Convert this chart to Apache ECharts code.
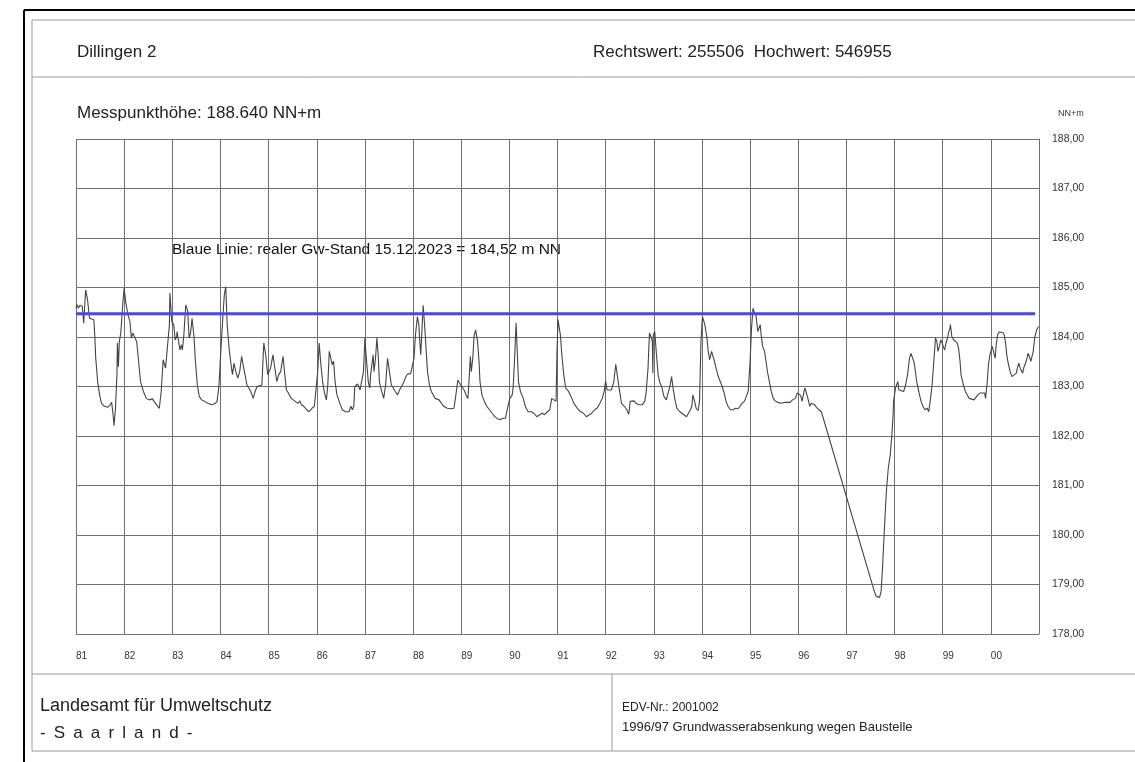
<!DOCTYPE html>
<html lang="de">
<head>
<meta charset="utf-8">
<title>Dillingen 2</title>
<script src="https://cdn.jsdelivr.net/npm/echarts@6/dist/echarts.min.js"></script>
<style>
  html, body { margin: 0; padding: 0; background: #fff; }
  #main { width: 1135px; height: 762px; }
</style>
</head>
<body>
<div id="main"></div>
<script type="text/javascript">
// Zeitachse (Jahre) und Grundwasserstand (NN+m)
let years = [
  1981.00, 1981.02, 1981.05, 1981.08, 1981.10, 1981.13, 1981.16, 1981.20, 1981.24, 1981.28,
  1981.32, 1981.37, 1981.39, 1981.41, 1981.45, 1981.49, 1981.53, 1981.59, 1981.66, 1981.71,
  1981.74, 1981.77, 1981.79, 1981.82, 1981.85, 1981.86, 1981.88, 1981.90, 1981.93, 1981.97,
  1982.00, 1982.03, 1982.08, 1982.12, 1982.15, 1982.18, 1982.22, 1982.26, 1982.30, 1982.34,
  1982.40, 1982.46, 1982.52, 1982.59, 1982.62, 1982.68, 1982.73, 1982.77, 1982.81, 1982.86,
  1982.90, 1982.94, 1982.95, 1982.99, 1983.03, 1983.06, 1983.09, 1983.10, 1983.13, 1983.16,
  1983.19, 1983.21, 1983.24, 1983.28, 1983.32, 1983.35, 1983.38, 1983.41, 1983.42, 1983.45,
  1983.48, 1983.52, 1983.56, 1983.61, 1983.67, 1983.74, 1983.81, 1983.88, 1983.93, 1983.97,
  1984.00, 1984.04, 1984.08, 1984.11, 1984.14, 1984.18, 1984.22, 1984.25, 1984.28, 1984.32,
  1984.36, 1984.40, 1984.44, 1984.47, 1984.51, 1984.55, 1984.59, 1984.63, 1984.68, 1984.72,
  1984.76, 1984.80, 1984.86, 1984.90, 1984.94, 1984.98,
  1985.04, 1985.09, 1985.12, 1985.17, 1985.21, 1985.25, 1985.30, 1985.33, 1985.37, 1985.41,
  1985.47, 1985.54, 1985.61, 1985.65, 1985.68, 1985.73, 1985.79, 1985.84, 1985.90, 1985.95,
  1985.99, 1986.02, 1986.05, 1986.08, 1986.12, 1986.16, 1986.20, 1986.23, 1986.26, 1986.30,
  1986.32, 1986.35, 1986.38, 1986.42, 1986.48, 1986.53, 1986.60, 1986.67, 1986.71, 1986.74,
  1986.77, 1986.79, 1986.85, 1986.90, 1986.94, 1986.97, 1987.00, 1987.03, 1987.07, 1987.10,
  1987.12, 1987.17, 1987.19, 1987.22, 1987.25, 1987.28, 1987.30, 1987.34, 1987.39, 1987.43,
  1987.47, 1987.51, 1987.55, 1987.59, 1987.63, 1987.68, 1987.72, 1987.76, 1987.80, 1987.84,
  1987.88, 1987.95, 1987.99, 1988.02, 1988.05, 1988.09, 1988.12, 1988.14, 1988.16, 1988.19,
  1988.21, 1988.24, 1988.27, 1988.30, 1988.34, 1988.38, 1988.42, 1988.46, 1988.50, 1988.54,
  1988.59, 1988.64, 1988.71, 1988.78, 1988.85, 1988.89, 1988.93, 1988.99,
  1989.02, 1989.06, 1989.10, 1989.14, 1989.17, 1989.19, 1989.21, 1989.24, 1989.27, 1989.30,
  1989.34, 1989.37, 1989.39, 1989.43, 1989.48, 1989.53, 1989.59, 1989.64, 1989.70, 1989.75,
  1989.81, 1989.86, 1989.92, 1989.94, 1989.97, 1990.01, 1990.06, 1990.08, 1990.11, 1990.14,
  1990.17, 1990.19, 1990.23, 1990.29, 1990.33, 1990.39, 1990.46, 1990.51, 1990.57, 1990.61,
  1990.63, 1990.68, 1990.73, 1990.79, 1990.84, 1990.88, 1990.92, 1990.97, 1990.99, 1991.01,
  1991.03, 1991.06, 1991.09, 1991.13, 1991.17, 1991.23, 1991.28, 1991.34, 1991.41, 1991.48,
  1991.54, 1991.60, 1991.66, 1991.71, 1991.77, 1991.82, 1991.88, 1991.93, 1991.97, 1992.00,
  1992.03, 1992.07, 1992.12, 1992.17, 1992.21, 1992.25, 1992.29, 1992.33, 1992.39, 1992.44,
  1992.48, 1992.51, 1992.55, 1992.59, 1992.63, 1992.69, 1992.76, 1992.81, 1992.84, 1992.88,
  1992.91, 1992.94, 1992.97, 1992.98, 1992.99, 1993.02, 1993.05, 1993.09, 1993.12,
  1993.17, 1993.21, 1993.26, 1993.30, 1993.34, 1993.37, 1993.40, 1993.44, 1993.48, 1993.54,
  1993.61, 1993.68, 1993.72, 1993.76, 1993.79, 1993.81, 1993.84, 1993.88, 1993.92, 1993.95,
  1993.98, 1994.01, 1994.03, 1994.06, 1994.10, 1994.13, 1994.16, 1994.20, 1994.23, 1994.26,
  1994.30, 1994.34, 1994.38, 1994.42, 1994.46, 1994.50, 1994.54, 1994.59, 1994.64, 1994.70,
  1994.75, 1994.79, 1994.83, 1994.88, 1994.92, 1994.96, 1995.00, 1995.03, 1995.06, 1995.08,
  1995.12, 1995.16, 1995.21, 1995.23, 1995.26, 1995.30, 1995.33, 1995.36, 1995.40, 1995.44,
  1995.48, 1995.52, 1995.57, 1995.61, 1995.66, 1995.72, 1995.77, 1995.83, 1995.88, 1995.94,
  1995.98, 1996.01, 1996.05, 1996.08, 1996.12, 1996.14, 1996.17, 1996.20, 1996.24, 1996.27,
  1996.30, 1996.34, 1996.38, 1996.43, 1996.48, 1996.52,
  1997.58, 1997.62, 1997.65, 1997.69, 1997.72, 1997.75, 1997.79, 1997.83, 1997.87, 1997.91,
  1997.94, 1997.97, 1997.98, 1998.02, 1998.07, 1998.09, 1998.13, 1998.19, 1998.23, 1998.27,
  1998.31, 1998.34, 1998.37, 1998.40, 1998.42, 1998.46, 1998.51, 1998.55, 1998.59, 1998.63,
  1998.66, 1998.68, 1998.71, 1998.74, 1998.78, 1998.82, 1998.85, 1998.88, 1998.90, 1998.93,
  1998.96, 1998.99, 1999.01, 1999.04, 1999.07, 1999.10, 1999.12, 1999.15, 1999.16, 1999.19,
  1999.23, 1999.27, 1999.30, 1999.33, 1999.36, 1999.38, 1999.43, 1999.47, 1999.51, 1999.55,
  1999.59, 1999.65, 1999.69, 1999.73, 1999.78, 1999.82, 1999.87, 1999.89, 1999.92, 1999.95,
  1999.98, 2000.00, 2000.03, 2000.06, 2000.09, 2000.11, 2000.14, 2000.17, 2000.21, 2000.25,
  2000.28, 2000.31, 2000.33, 2000.36, 2000.40, 2000.44, 2000.48, 2000.53, 2000.55, 2000.58,
  2000.61, 2000.64, 2000.66, 2000.69, 2000.72, 2000.75, 2000.77, 2000.80, 2000.83, 2000.86,
  2000.88, 2000.91, 2000.95, 2000.99
];

let levels = [
  184.58, 184.66, 184.58, 184.64, 184.60, 184.62, 184.28, 184.95, 184.75, 184.38,
  184.35, 184.35, 184.04, 183.57, 183.10, 182.83, 182.66, 182.60, 182.58, 182.63,
  182.68, 182.43, 182.21, 182.56, 183.24, 183.88, 183.40, 183.91, 184.08, 184.65,
  184.99, 184.72, 184.45, 184.31, 183.98, 184.08, 184.11, 183.91, 183.51, 183.10,
  182.90, 182.76, 182.73, 182.75, 182.70, 182.62, 182.56, 182.90, 183.54, 183.37,
  183.34, 184.25, 184.89, 184.31, 184.25, 183.94, 184.01, 184.11, 183.91, 183.74,
  183.84, 183.74, 184.04, 184.65, 184.52, 183.98, 184.08, 184.38, 184.35, 184.01,
  183.51, 183.03, 182.80, 182.73, 182.70, 182.66, 182.63, 182.65, 182.70, 183.03,
  183.57, 184.25, 184.85, 185.02, 184.25, 183.77, 183.44, 183.24, 183.47, 183.30,
  183.17, 183.30, 183.61, 183.44, 183.24, 183.03, 182.97, 182.90, 182.76, 182.90,
  183.00, 183.03, 183.03, 183.88, 183.64, 183.24,
  183.37, 183.64, 183.44, 183.10, 183.24, 183.30, 183.61, 183.30, 182.93, 182.87,
  182.76, 182.71, 182.66, 182.71, 182.63, 182.60, 182.53, 182.49, 182.56, 182.60,
  182.63, 183.30, 183.88, 183.51, 183.10, 182.87, 182.73, 183.03, 183.71, 183.54,
  183.44, 183.51, 183.10, 182.83, 182.66, 182.53, 182.49, 182.49, 182.60, 182.53,
  182.60, 183.00, 183.05, 182.93, 182.97, 183.30, 183.98, 183.57, 183.10, 182.97,
  183.24, 183.64, 183.30, 183.57, 183.98, 183.57, 183.10, 182.93, 182.76, 183.03,
  183.57, 183.30, 183.03, 182.97, 182.90, 182.83, 182.93, 182.90, 183.07, 183.17,
  183.25, 183.26, 183.27, 183.57, 184.04, 184.41, 184.25, 183.91, 183.64, 184.25,
  184.64, 184.25, 183.77, 183.30, 183.03, 182.90, 182.83, 182.76, 182.75, 182.73,
  182.66, 182.60, 182.56, 182.55, 182.56, 182.83, 183.13, 183.03,
  183.03, 182.93, 182.83, 182.76, 183.24, 183.61, 183.30, 183.57, 184.04, 184.14,
  183.91, 183.51, 183.10, 182.83, 182.70, 182.60, 182.53, 182.46, 182.39, 182.35,
  182.33, 182.36, 182.36, 182.39, 182.60, 182.76, 182.83, 183.00, 183.57, 184.28,
  183.57, 183.10, 182.90, 182.76, 182.60, 182.49, 182.49, 182.46, 182.39, 182.36,
  182.43, 182.46, 182.43, 182.49, 182.53, 182.76, 182.73, 182.70, 183.71, 184.35,
  184.31, 184.04, 183.64, 183.24, 182.97, 182.90, 182.80, 182.66, 182.56, 182.49,
  182.46, 182.39, 182.43, 182.46, 182.53, 182.56, 182.66, 182.76, 182.90, 183.11,
  182.93, 182.89, 182.93, 183.10, 183.45, 183.17, 182.90, 182.66, 182.60, 182.53,
  182.44, 182.70, 182.66, 182.71, 182.66, 182.63, 182.63, 182.70, 182.87, 183.37,
  184.08, 184.01, 183.91, 183.27, 184.04, 184.11, 183.71, 183.24, 183.10,
  182.97, 182.80, 182.73, 182.76, 183.03, 183.20, 182.97, 182.73, 182.56, 182.49,
  182.44, 182.39, 182.43, 182.53, 182.60, 182.83, 182.73, 182.56, 182.51, 182.70,
  183.91, 184.41, 184.35, 184.25, 184.01, 183.71, 183.54, 183.71, 183.74, 183.51,
  183.34, 183.20, 183.10, 183.00, 182.87, 182.70, 182.60, 182.53, 182.53, 182.56,
  182.55, 182.60, 182.66, 182.70, 182.73, 182.90, 183.51, 184.18, 184.58, 184.52,
  184.45, 184.11, 184.25, 184.04, 183.81, 183.71, 183.51, 183.30, 183.10, 182.90,
  182.76, 182.71, 182.68, 182.64, 182.66, 182.68, 182.68, 182.68, 182.73, 182.76,
  182.87, 182.90, 182.82, 182.70, 182.90, 182.97, 182.93, 182.76, 182.60, 182.66,
  182.66, 182.63, 182.58, 182.53, 182.49, 182.48,
  178.86, 178.76, 178.72, 178.74, 178.86, 179.33, 180.14, 180.88, 181.35, 181.62,
  181.96, 182.43, 182.70, 182.97, 183.10, 182.93, 182.90, 182.90, 183.03, 183.24,
  183.57, 183.67, 183.64, 183.51, 183.40, 183.10, 182.87, 182.70, 182.60, 182.53,
  182.49, 182.56, 182.49, 182.70, 183.03, 183.57, 183.98, 183.91, 183.71, 183.81,
  183.94, 183.88, 183.81, 183.74, 183.88, 183.98, 184.08, 184.18, 184.25, 184.01,
  183.94, 183.91, 183.88, 183.77, 183.51, 183.24, 183.03, 182.90, 182.83, 182.76,
  182.74, 182.73, 182.73, 182.83, 182.87, 182.89, 182.87, 182.76, 183.03, 183.44,
  183.64, 183.71, 183.81, 183.84, 183.57, 183.84, 184.04, 184.10, 184.11, 184.09,
  184.04, 183.84, 183.64, 183.47, 183.30, 183.20, 183.22, 183.27, 183.37, 183.47,
  183.37, 183.34, 183.27, 183.40, 183.47, 183.57, 183.67, 183.61, 183.51, 183.47,
  183.71, 183.98, 184.14, 184.21
];

// blaue Linie (realer Gw-Stand), so wie sie im Bild liegt
let blueSpan = [1981, 2000.92];
let blueLevel = 184.47;

// Achsen
let xMin = 1981, xMax = 2001;
let yMin = 178, yMax = 188;

let seriesData = [];
years.forEach((y, i) => {
    seriesData.push([y, levels[i]]);
});

let blueData = blueSpan.map((y) => [y, blueLevel]);

let chart = echarts.init(document.getElementById('main'), null, {renderer: 'canvas'});

let fontFam = '"Liberation Sans", Arial, sans-serif';
let gridColor = '#707070';
let frameColor = '#9a9a9a';

let option = {
    animation: false,
    backgroundColor: '#fff',
    grid: {left: 76, right: 96, top: 139, bottom: 128},
    xAxis: {
        type: 'value',
        min: xMin,
        max: xMax,
        interval: 1,
        axisLine: {show: false},
        axisTick: {show: false},
        splitLine: {show: true, lineStyle: {color: gridColor, width: 1}},
        axisLabel: {
            margin: 17,
            align: 'left',
            fontSize: 10,
            color: '#333',
            fontFamily: fontFam,
            formatter: (v) => v === xMax ? '' : String(v).slice(2)
        }
    },
    yAxis: {
        type: 'value',
        position: 'right',
        min: yMin,
        max: yMax,
        interval: 1,
        axisLine: {show: true, lineStyle: {color: gridColor, width: 1}},
        axisTick: {show: false},
        splitLine: {show: true, lineStyle: {color: gridColor, width: 1}},
        axisLabel: {
            margin: 13,
            fontSize: 10.5,
            color: '#333',
            fontFamily: fontFam,
            formatter: (v) => v.toFixed(2).replace('.', ',')
        }
    },
    series: [
        {
            name: 'Gw-Stand',
            type: 'line',
            data: seriesData,
            showSymbol: false,
            lineStyle: {color: '#444', width: 1.1},
            z: 3
        },
        {
            name: 'Blaue Linie',
            type: 'line',
            data: blueData,
            showSymbol: false,
            lineStyle: {color: '#4646f2', width: 3},
            z: 4
        }
    ],
    graphic: [
        // Rahmen
        {type: 'line', shape: {x1: 24, y1: 10, x2: 1135, y2: 10}, style: {stroke: '#000', lineWidth: 2}},
        {type: 'line', shape: {x1: 24, y1: 10, x2: 24, y2: 762}, style: {stroke: '#000', lineWidth: 2}},
        {type: 'rect', shape: {x: 32, y: 20, width: 1110, height: 731}, style: {fill: 'none', stroke: frameColor, lineWidth: 1}},
        {type: 'line', shape: {x1: 32, y1: 77, x2: 1135, y2: 77}, style: {stroke: frameColor, lineWidth: 1}},
        {type: 'line', shape: {x1: 32, y1: 674, x2: 1135, y2: 674}, style: {stroke: frameColor, lineWidth: 1}},
        {type: 'line', shape: {x1: 612, y1: 674, x2: 612, y2: 751}, style: {stroke: frameColor, lineWidth: 1}},
        // Texte
        {type: 'text', x: 77, y: 52, style: {text: 'Dillingen 2', font: '17px ' + fontFam, fill: '#222', verticalAlign: 'middle'}},
        {type: 'text', x: 593, y: 52, style: {text: 'Rechtswert: 255506  Hochwert: 546955', font: '17px ' + fontFam, fill: '#222', verticalAlign: 'middle'}},
        {type: 'text', x: 77, y: 113, style: {text: 'Messpunkthöhe: 188.640 NN+m', font: '17px ' + fontFam, fill: '#222', verticalAlign: 'middle'}},
        {type: 'text', x: 1058, y: 114, style: {text: 'NN+m', font: '9px ' + fontFam, fill: '#333', verticalAlign: 'middle'}},
        {type: 'text', x: 172, y: 250, style: {text: 'Blaue Linie: realer Gw-Stand 15.12.2023 = 184,52 m NN', font: '15.5px ' + fontFam, fill: '#111', verticalAlign: 'middle'}},
        {type: 'text', x: 40, y: 706, style: {text: 'Landesamt für Umweltschutz', font: '18px ' + fontFam, fill: '#222', verticalAlign: 'middle'}},
        {type: 'text', x: 40, y: 733, style: {text: '-\u2009 S\u2009 a\u2009 a\u2009 r\u2009 l\u2009 a\u2009 n\u2009 d\u2009 -', font: '17px ' + fontFam, fill: '#222', verticalAlign: 'middle'}},
        {type: 'text', x: 622, y: 708, style: {text: 'EDV-Nr.: 2001002', font: '12px ' + fontFam, fill: '#222', verticalAlign: 'middle'}},
        {type: 'text', x: 622, y: 727, style: {text: '1996/97 Grundwasserabsenkung wegen Baustelle', font: '13px ' + fontFam, fill: '#222', verticalAlign: 'middle'}}
    ]
};

chart.setOption(option);
</script>
</body>
</html>
